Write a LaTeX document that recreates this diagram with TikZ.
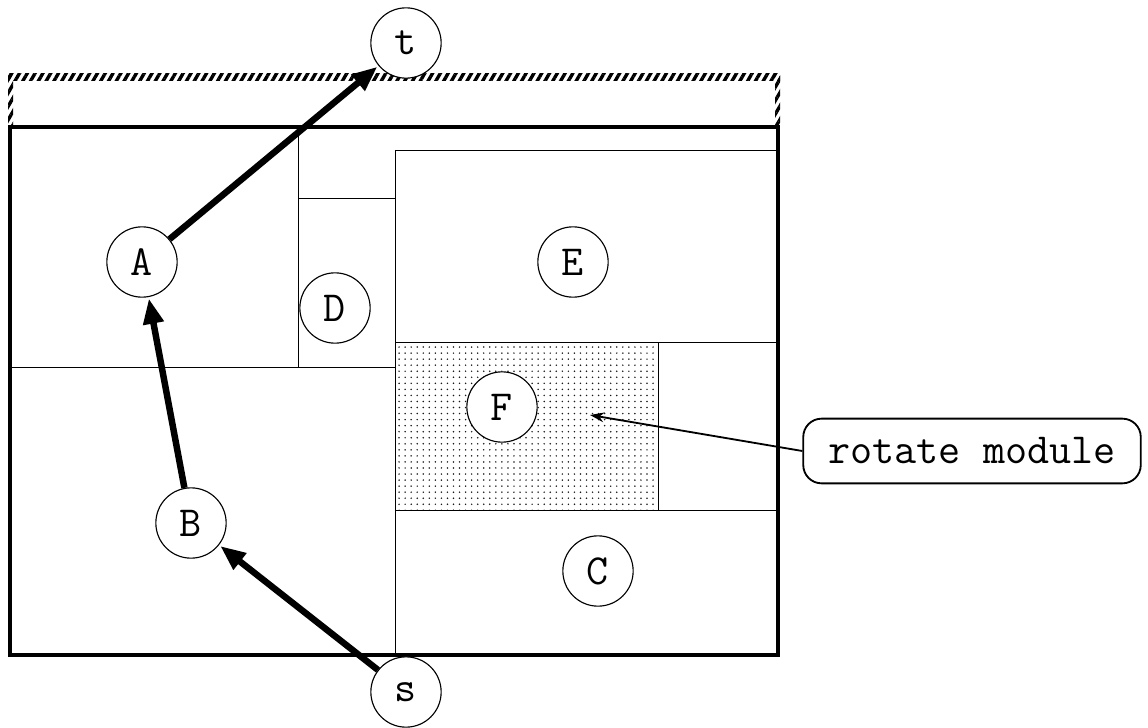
\documentclass[tikz,border=0pt]{standalone}
\usepackage{fontspec}
\usetikzlibrary{arrows.meta, patterns.meta}

\begin{document}
\begin{tikzpicture}[
    x=0.025cm, y=-0.025cm,
    every node/.style={font=\ttfamily\fontsize{30.5}{33}\selectfont},
    mod/.style={circle, draw, line width=0.8pt, fill=white, minimum size=50pt, inner sep=0pt},
    wall/.style={line width=0.7pt},
    chip/.style={line width=2.2pt},
    route/.style={-{Triangle[length=18pt, width=14pt]}, line width=4.6pt, shorten >=1pt},
    callout/.style={rounded corners=13pt, draw, line width=1.3pt, minimum width=240pt, minimum height=46pt},
    pointer/.style={-{Stealth[length=10pt, width=7pt]}, line width=1.3pt},
]
\useasboundingbox (0,0) rectangle (1148,728);

% ============================================================ the spare row on top
\fill[pattern={Lines[angle=60, distance=4.8pt, line width=2.4pt]}]
    (8,74) rectangle (780,81);
\fill[pattern={Lines[angle=60, distance=4.8pt, line width=2.4pt]}]
    (8,74) rectangle (13,127);
\fill[pattern={Lines[angle=60, distance=4.8pt, line width=2.4pt]}]
    (775,74) rectangle (780,127);

% ============================================================ the floorplan
\fill[pattern={Dots[distance=4.3pt, radius=0.6pt]}, pattern color=black!90]
    (395,342) rectangle (658,510);

\draw[wall] (298,127) -- (298,367);
\draw[wall] (10,367) -- (395,367);
\draw[wall] (298,198) -- (395,198);
\draw[wall] (395,150) -- (395,655);
\draw[wall] (395,150) -- (778,150);
\draw[wall] (395,342) -- (778,342);
\draw[wall] (658,342) -- (658,510);
\draw[wall] (395,510) -- (778,510);

\draw[chip] (10,127) rectangle (778,655);

% ============================================================ modules
\node[mod] (t) at (406,43) {t};
\node[mod] (A) at (142,262) {A};
\node[mod] (D) at (335,308) {D};
\node[mod] (E) at (573,262) {E};
\node[mod] (F) at (502,407) {F};
\node[mod] (B) at (191,523) {B};
\node[mod] (C) at (598,571) {C};
\node[mod] (s) at (406,692) {s};

% the path s -> B -> A -> t
\draw[route] (s) -- (B);
\draw[route] (B) -- (A);
\draw[route] (A) -- (t);

% ============================================================ callout
\node[callout] (rot) at (972,451) {rotate module};
\coordinate (rotin) at (590,415);
\draw[pointer] (rot.west) -- (rotin);

\end{tikzpicture}
\end{document}
